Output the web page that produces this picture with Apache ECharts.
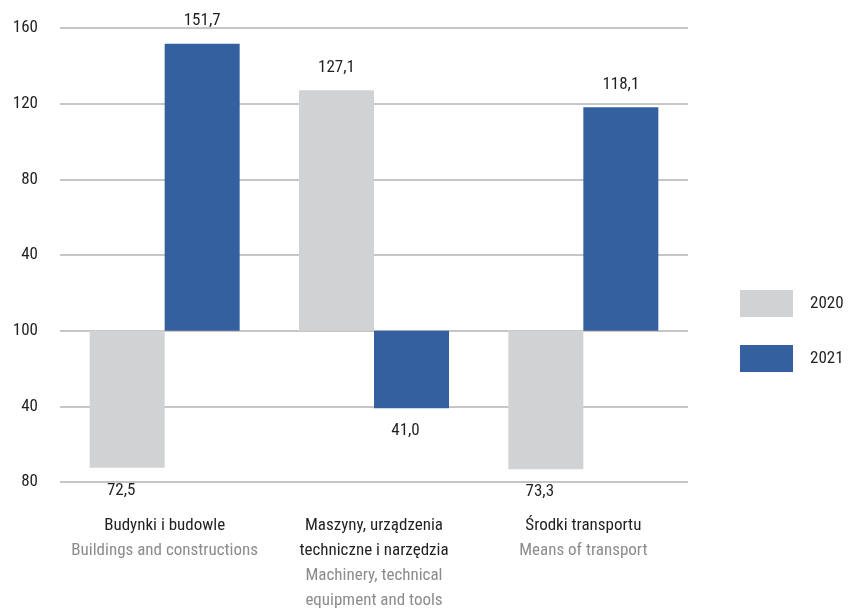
<!DOCTYPE html>
<html><head><meta charset="utf-8">
<script src="https://cdn.jsdelivr.net/npm/echarts@6/dist/echarts.min.js"></script>
<style>html,body{margin:0;padding:0;background:#fff}#c{width:848px;height:609px}</style>
</head><body><div id="c"></div>
<script>
const categoriesPl = ['Budynki i budowle', 'Maszyny, urządzenia\ntechniczne i narzędzia', 'Środki transportu'];
const categoriesEn = ['Buildings and constructions', 'Machinery, technical\nequipment and tools', 'Means of transport'];
const seriesNames = ['2020', '2021'];
// signed distance from the 100 baseline (negative = drawn below)
const values2020 = [-72.5, 127.1, -73.3];
const values2021 = [151.7, -41.0, 118.1];
const yTicks = { min: -80, max: 160, interval: 40, baselineLabel: '100' };

const FONT = "'Liberation Sans Narrow', 'Roboto Condensed', 'DejaVu Sans Condensed', sans-serif";
const colors = ['#d1d2d4', '#3560a0'];

function fmt(v) { return Math.abs(v).toFixed(1).replace('.', ','); }
function mkData(arr) {
  return arr.map(v => ({
    value: v,
    label: v < 0 ? { position: 'bottom', offset: [-6, 0] } : { position: 'top' }
  }));
}
const catIndex = {};
categoriesPl.forEach((c, i) => catIndex[c] = i);

const chart = echarts.init(document.getElementById('c'), null, { renderer: 'canvas' });
chart.setOption({
  animation: false,
  textStyle: { fontFamily: FONT },
  color: colors,
  grid: { left: 60, right: 160, top: 28, bottom: 125, containLabel: false },
  legend: {
    orient: 'vertical', left: 735, top: 285,
    itemWidth: 53, itemHeight: 27, itemGap: 28,
    icon: 'rect',
    data: seriesNames,
    textStyle: { fontFamily: FONT, fontSize: 17, color: '#231f20', padding: [0, 0, 0, 12] }
  },
  xAxis: {
    type: 'category', data: categoriesPl,
    axisLine: { show: false }, axisTick: { show: false },
    axisLabel: {
      interval: 0, margin: 31,
      formatter: function (val) {
        const i = catIndex[val];
        const pl = categoriesPl[i].split('\n').map(s => '{pl|' + s + '}');
        const en = categoriesEn[i].split('\n').map(s => '{en|' + s + '}');
        return pl.concat(en).join('\n');
      },
      rich: {
        pl: { fontFamily: FONT, fontSize: 17, color: '#231f20', lineHeight: 25 },
        en: { fontFamily: FONT, fontSize: 17, color: '#8c8c8c', lineHeight: 25 }
      }
    }
  },
  yAxis: {
    type: 'value', min: yTicks.min, max: yTicks.max, interval: yTicks.interval,
    axisLine: { show: false }, axisTick: { show: false },
    axisLabel: {
      margin: 22, fontSize: 17, color: '#231f20', fontFamily: FONT,
      formatter: v => v === 0 ? yTicks.baselineLabel : String(Math.abs(v))
    },
    splitLine: { lineStyle: { color: '#b3b3b3', width: 1.5 } }
  },
  series: [
    {
      name: seriesNames[0], type: 'bar', data: mkData(values2020),
      barWidth: 75, barGap: '0%',
      itemStyle: { color: colors[0] },
      label: { show: true, distance: 14, fontSize: 17, color: '#231f20', fontFamily: FONT, formatter: p => fmt(p.value) }
    },
    {
      name: seriesNames[1], type: 'bar', data: mkData(values2021),
      barWidth: 75, barGap: '0%',
      itemStyle: { color: colors[1] },
      label: { show: true, distance: 14, fontSize: 17, color: '#231f20', fontFamily: FONT, formatter: p => fmt(p.value) }
    }
  ]
});
</script></body></html>
